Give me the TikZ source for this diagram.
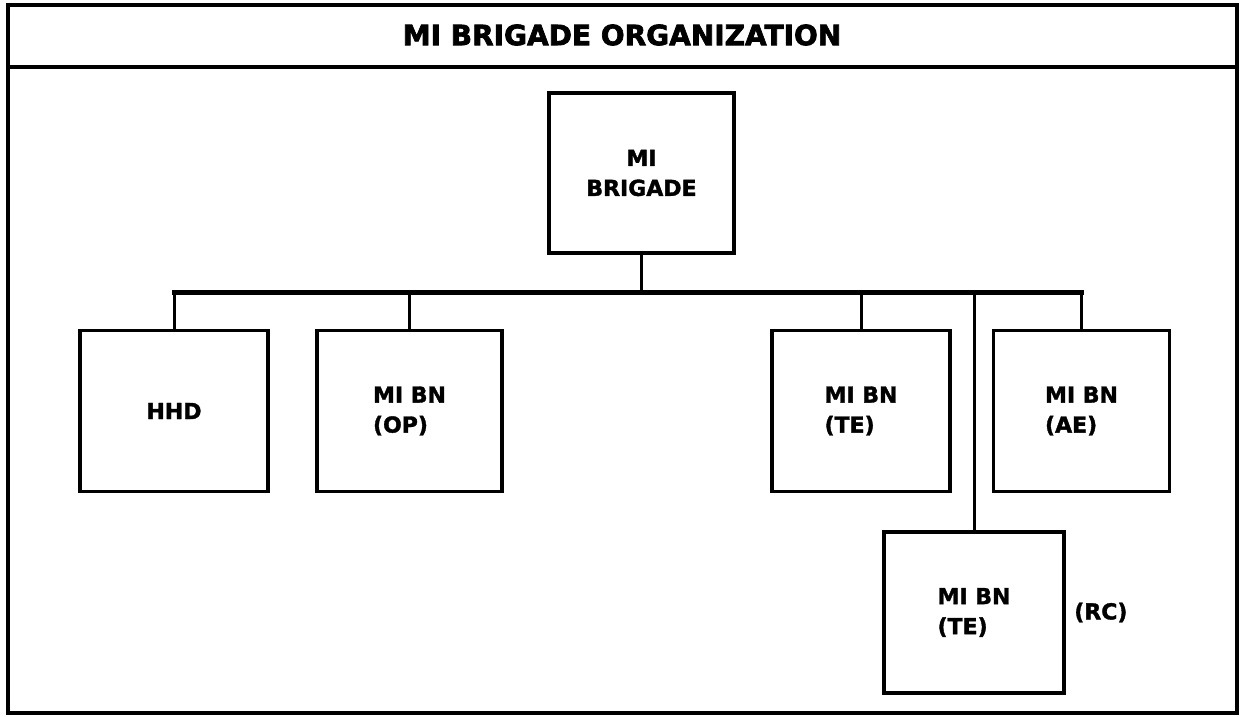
\documentclass[tikz,border=0pt]{standalone}
\usepackage{fontspec}
\setmainfont{DejaVu Sans}
\newfontfamily\heavyfont{DejaVu Sans Bold}[FakeBold=1.6]
\newfontfamily\titlefont{DejaVu Sans Bold}[FakeBold=2.4]
\begin{document}
\begin{tikzpicture}[x=1pt,y=-1pt,
  unit/.style={draw,line width=3.5pt,minimum height=161pt,inner sep=0pt,
    font=\heavyfont\fontsize{22}{30}\selectfont},
  stack/.style={unit,align=left},
  link/.style={line width=3pt},
  busline/.style={line width=5pt,line cap=rect},
  frameline/.style={line width=4pt}]
\useasboundingbox (0,0) rectangle (1240,716);

% outer frame and title band
\draw[frameline] (8,5) rectangle (1237,713);
\draw[frameline] (8,67) -- (1237,67);
\node (title) at (622,35) {\titlefont\fontsize{28}{32}\selectfont MI BRIGADE ORGANIZATION};

% headquarters
\node[unit,align=center,minimum width=185pt,minimum height=160pt] (brig) at (641.5,173) {MI\\BRIGADE};

% subordinate units
\node[unit,minimum width=188pt] (hhd) at (174,411) {HHD};
\node[stack,minimum width=185pt] (op) at (409.5,411) {MI BN\\(OP)};
\node[stack,minimum width=178pt] (te) at (861,411) {MI BN\\(TE)};
\node[stack,minimum width=176pt] (ae) at (1081.5,411) {MI BN\\(AE)};
\node[stack,minimum width=180pt] (rc) at (974,612.5) {MI BN\\(TE)};
\node[anchor=west,font=\heavyfont\fontsize{22}{30}\selectfont] (rctag) at ([xshift=5pt]rc.east) {(RC)};

% connecting lines
\coordinate (bus) at (641.5,292);
\draw[link] (brig.south) -- (brig.south |- bus);
\draw[busline] (hhd.north |- bus) -- (ae.north |- bus);
\draw[link] (hhd.north) -- (hhd.north |- bus);
\draw[link] (op.north) -- (op.north |- bus);
\draw[link] (te.north) -- (te.north |- bus);
\draw[link] (ae.north) -- (ae.north |- bus);
\draw[link] (rc.north) -- (rc.north |- bus);
\end{tikzpicture}
\end{document}
